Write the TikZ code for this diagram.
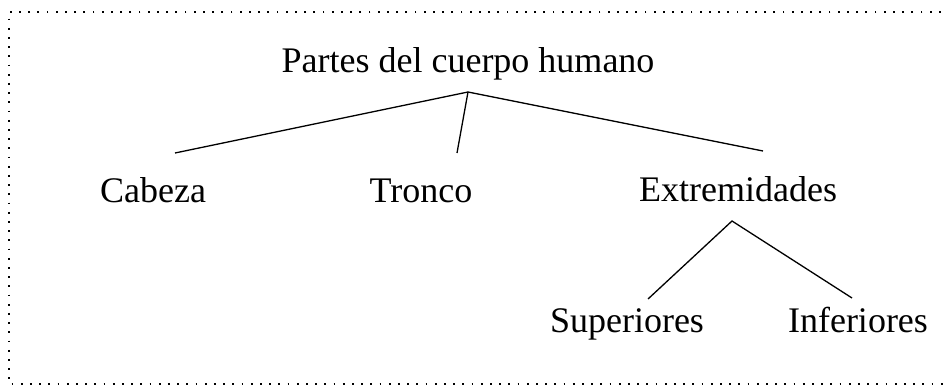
\documentclass[tikz,border=0pt]{standalone}
\usepackage{fontspec}
\setmainfont{Liberation Serif}
\begin{document}
\begin{tikzpicture}[x=1pt, y=-1pt,
    label/.style={anchor=base, inner sep=0pt, font=\fontsize{36}{40}\selectfont},
    branch/.style={line width=1.3pt}]
      \useasboundingbox (0, 0) rectangle (945, 387);
      \draw[line width=1.8pt, dash pattern=on 1.8pt off 7.4pt] (950, 12) -| (9, 384) -- (950, 384);
      \node[label] (partes) at (468, 73) {Partes del cuerpo humano};
      \node[label] (cabeza) at (153, 203) {Cabeza};
      \node[label] (tronco) at (421, 203) {Tronco};
      \node[label] (extrem) at (738, 202) {Extremidades};
      \node[label] (super) at (627, 332) {Superiores};
      \node[label] (infer) at (858, 332) {Inferiores};
      \coordinate (partes-root) at (468, 92);
      \coordinate (cabeza-top) at (175, 153);
      \coordinate (tronco-top) at (457, 153);
      \coordinate (extrem-top) at (763, 151);
      \coordinate (extrem-root) at (732, 221);
      \coordinate (super-top) at (648, 299);
      \coordinate (infer-top) at (852, 298);
      \draw[branch] (cabeza-top) -- (partes-root) -- (extrem-top);
      \draw[branch] (partes-root) -- (tronco-top);
      \draw[branch] (super-top) -- (extrem-root) -- (infer-top);
    \end{tikzpicture}
\end{document}
